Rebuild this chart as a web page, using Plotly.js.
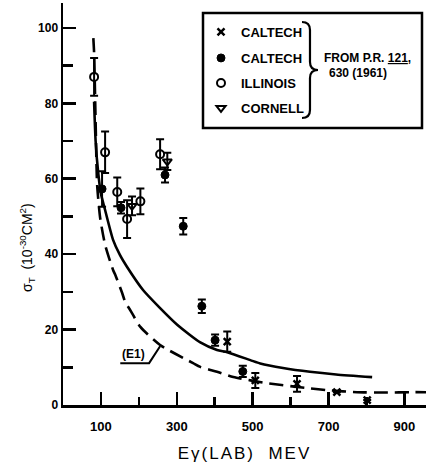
<!DOCTYPE html>
<html>
<head>
<meta charset="utf-8">
<script src="https://cdn.plot.ly/plotly-3.0.1.min.js"></script>
<style>html,body{margin:0;padding:0;background:#fff;}#chart{width:426px;height:470px;}</style>
</head>
<body>
<div id="chart"></div>
<script>
// ---- data ----
const solidE = [82, 86, 92.6, 100, 111, 132, 150, 169, 211, 256, 301, 362, 406, 433, 494, 520, 580, 651, 720, 815];
const solidS = [80.4, 70, 61.8, 56, 51.7, 43.8, 39.8, 36.6, 30.5, 25.7, 21.3, 16.6, 14.6, 14.0, 11.9, 11.0, 9.8, 8.8, 8.1, 7.4];

const dashE = [80, 82, 86, 90, 98, 111, 132, 138, 156, 164, 177, 204, 256, 343, 362, 406, 449, 538, 617, 644, 700, 775, 850, 923, 957];
const dashS = [97.3, 93.4, 75, 58.4, 49.6, 42.5, 35.8, 34.5, 29.7, 27.3, 25.2, 20.7, 15.9, 11.1, 10.1, 8.8, 7.4, 5.8, 4.8, 4.5, 3.9, 3.4, 3.3, 3.4, 3.4];

const caltechXE = [433, 507, 617, 722, 802];
const caltechXS = [16.8, 6.5, 5.6, 3.4, 1.3];
const caltechXErr = [2.7, 2.0, 2.1, 0, 0];

const caltechFE = [103, 153, 269, 317, 366, 401, 474];
const caltechFS = [57.3, 52.3, 61.0, 47.4, 26.2, 17.2, 8.9];
const caltechFErr = [4.7, 1.5, 2.0, 2.2, 1.8, 1.5, 1.5];

const illinoisE = [82, 111, 143, 169, 204, 256];
const illinoisS = [87, 67, 56.5, 49.3, 54, 66.5];
const illinoisErr = [5, 5.5, 3.8, 5, 3.4, 4];

const cornellE = [182, 275];
const cornellS = [52.8, 64.6];
const cornellErr = [2.5, 2.3];

const legendNames = ['CALTECH', 'CALTECH', 'ILLINOIS', 'CORNELL'];
const xTickVals = [100, 300, 500, 700, 900];
const yTickVals = [0, 20, 40, 60, 80, 100];

// ---- layout helpers (plot area in pixels) ----
const PL = 63, PR = 426, PT = 3, PB = 405;
const pxX = x => (x - PL) / (PR - PL);
const pxY = y => (PB - y) / (PB - PT);

const FONT = 'Liberation Sans, Arial, sans-serif';
const errStyle = {type: 'data', visible: true, color: '#000', thickness: 2, width: 4};

const traces = [
  {x: solidE, y: solidS, mode: 'lines', line: {color: '#000', width: 2.6, shape: 'spline', smoothing: 0.6}, showlegend: false, hoverinfo: 'skip'},
  {x: dashE, y: dashS, mode: 'lines', line: {color: '#000', width: 2.6, dash: '14px,7px', shape: 'spline', smoothing: 0.6}, showlegend: false, hoverinfo: 'skip'},
  {x: caltechXE, y: caltechXS, name: legendNames[0], legend: 'legend', mode: 'markers',
   marker: {symbol: 'x-thin-open', size: 7, color: '#000', line: {color: '#000', width: 2.5}},
   error_y: Object.assign({array: caltechXErr}, errStyle)},
  {x: caltechFE, y: caltechFS, name: legendNames[1], legend: 'legend2', mode: 'markers',
   marker: {symbol: 'circle', size: 8, color: '#000', line: {color: '#000', width: 1}},
   error_y: Object.assign({array: caltechFErr}, errStyle)},
  {x: illinoisE, y: illinoisS, name: legendNames[2], legend: 'legend3', mode: 'markers',
   marker: {symbol: 'circle-open', size: 8, color: '#000', line: {color: '#000', width: 2}},
   error_y: Object.assign({array: illinoisErr}, errStyle)},
  {x: cornellE, y: cornellS, name: legendNames[3], legend: 'legend4', mode: 'markers',
   marker: {symbol: 'triangle-down-open', size: 8, color: '#000', line: {color: '#000', width: 2}},
   error_y: Object.assign({array: cornellErr}, errStyle)}
];

const bracePath = (() => {
  const p = (x, y) => pxX(x).toFixed(4) + ',' + pxY(y).toFixed(4);
  return 'M' + p(302, 22) + ' Q' + p(310, 22) + ' ' + p(310, 30) +
         ' L' + p(310, 62) + ' Q' + p(310, 70) + ' ' + p(318, 70) +
         ' Q' + p(310, 70) + ' ' + p(310, 78) +
         ' L' + p(310, 110) + ' Q' + p(310, 118) + ' ' + p(302, 118);
})();

const legendAt = yc => ({
  x: pxX(201), y: pxY(yc), xanchor: 'left', yanchor: 'middle',
  bgcolor: 'rgba(0,0,0,0)', borderwidth: 0,
  font: {family: FONT, size: 13, weight: 'bold', color: '#000'},
  itemwidth: 30
});

const layout = {
  width: 426, height: 470,
  margin: {l: PL, r: 426 - PR, t: PT, b: 470 - PB},
  paper_bgcolor: '#fff', plot_bgcolor: '#fff',
  showlegend: true,
  font: {family: FONT, color: '#000'},
  xaxis: {
    range: [0, 957], showgrid: false, zeroline: false,
    showline: true, linecolor: '#000', linewidth: 2.5, mirror: false,
    ticks: 'inside', ticklen: 13, tickwidth: 2.5, tickcolor: '#000',
    tickvals: xTickVals, ticktext: xTickVals.map(String),
    ticklabelstandoff: 8,
    tickfont: {family: FONT, size: 13, weight: 'bold', color: '#000'},
    minor: {tick0: 0, dtick: 100, ticks: 'inside', ticklen: 8, tickwidth: 2.5, tickcolor: '#000'},
    title: {text: '<span style="letter-spacing:2px">Eγ(LAB)  MEV</span>', font: {family: FONT, size: 17, color: '#000'}, standoff: 14},
    fixedrange: true
  },
  yaxis: {
    range: [0, 106.6], showgrid: false, zeroline: false,
    showline: true, linecolor: '#000', linewidth: 2.5,
    ticks: 'inside', ticklen: 13, tickwidth: 2.5, tickcolor: '#000',
    tickvals: yTickVals, ticktext: yTickVals.map(String),
    tickfont: {family: FONT, size: 12, weight: 'bold', color: '#000'},
    minor: {tick0: 0, dtick: 10, ticks: 'inside', ticklen: 10, tickwidth: 2.5, tickcolor: '#000'},
    automargin: false,
    fixedrange: true
  },
  legend: legendAt(32),
  legend2: legendAt(58),
  legend3: legendAt(83),
  legend4: legendAt(108),
  shapes: [
    {type: 'rect', xref: 'paper', yref: 'paper', x0: pxX(203), x1: pxX(422), y0: pxY(128), y1: pxY(13),
     line: {color: '#000', width: 2.5}, fillcolor: 'rgba(0,0,0,0)'},
    {type: 'path', xref: 'paper', yref: 'paper', path: bracePath, line: {color: '#000', width: 2.2}},
    {type: 'path', xref: 'x', yref: 'y', path: 'M151,11.1 L227,11.1 L256,15.6', line: {color: '#000', width: 2}}
  ],
  annotations: [
    {xref: 'paper', yref: 'paper', x: pxX(27), y: pxY(248), xanchor: 'center', yanchor: 'middle', showarrow: false, textangle: -90,
     text: 'σ<sub>T</sub>  (10<sup>-30</sup>CM<sup>2</sup>)', font: {family: FONT, size: 14, color: '#000'}},
    {xref: 'paper', yref: 'paper', x: pxX(322), y: pxY(58), xanchor: 'left', yanchor: 'middle', showarrow: false,
     text: 'FROM P.R. <span style="text-decoration:underline">121</span>,', font: {family: FONT, size: 12, weight: 'bold', color: '#000'}},
    {xref: 'paper', yref: 'paper', x: pxX(327), y: pxY(73), xanchor: 'left', yanchor: 'middle', showarrow: false,
     text: '630 (1961)', font: {family: FONT, size: 12, weight: 'bold', color: '#000'}},
    {xref: 'x', yref: 'y', x: 185, y: 13.4, showarrow: false, text: '(E1)',
     font: {family: FONT, size: 12, weight: 'bold', color: '#000'}}
  ]
};

Plotly.newPlot('chart', traces, layout, {displayModeBar: false, staticPlot: true});
</script>
</body>
</html>
